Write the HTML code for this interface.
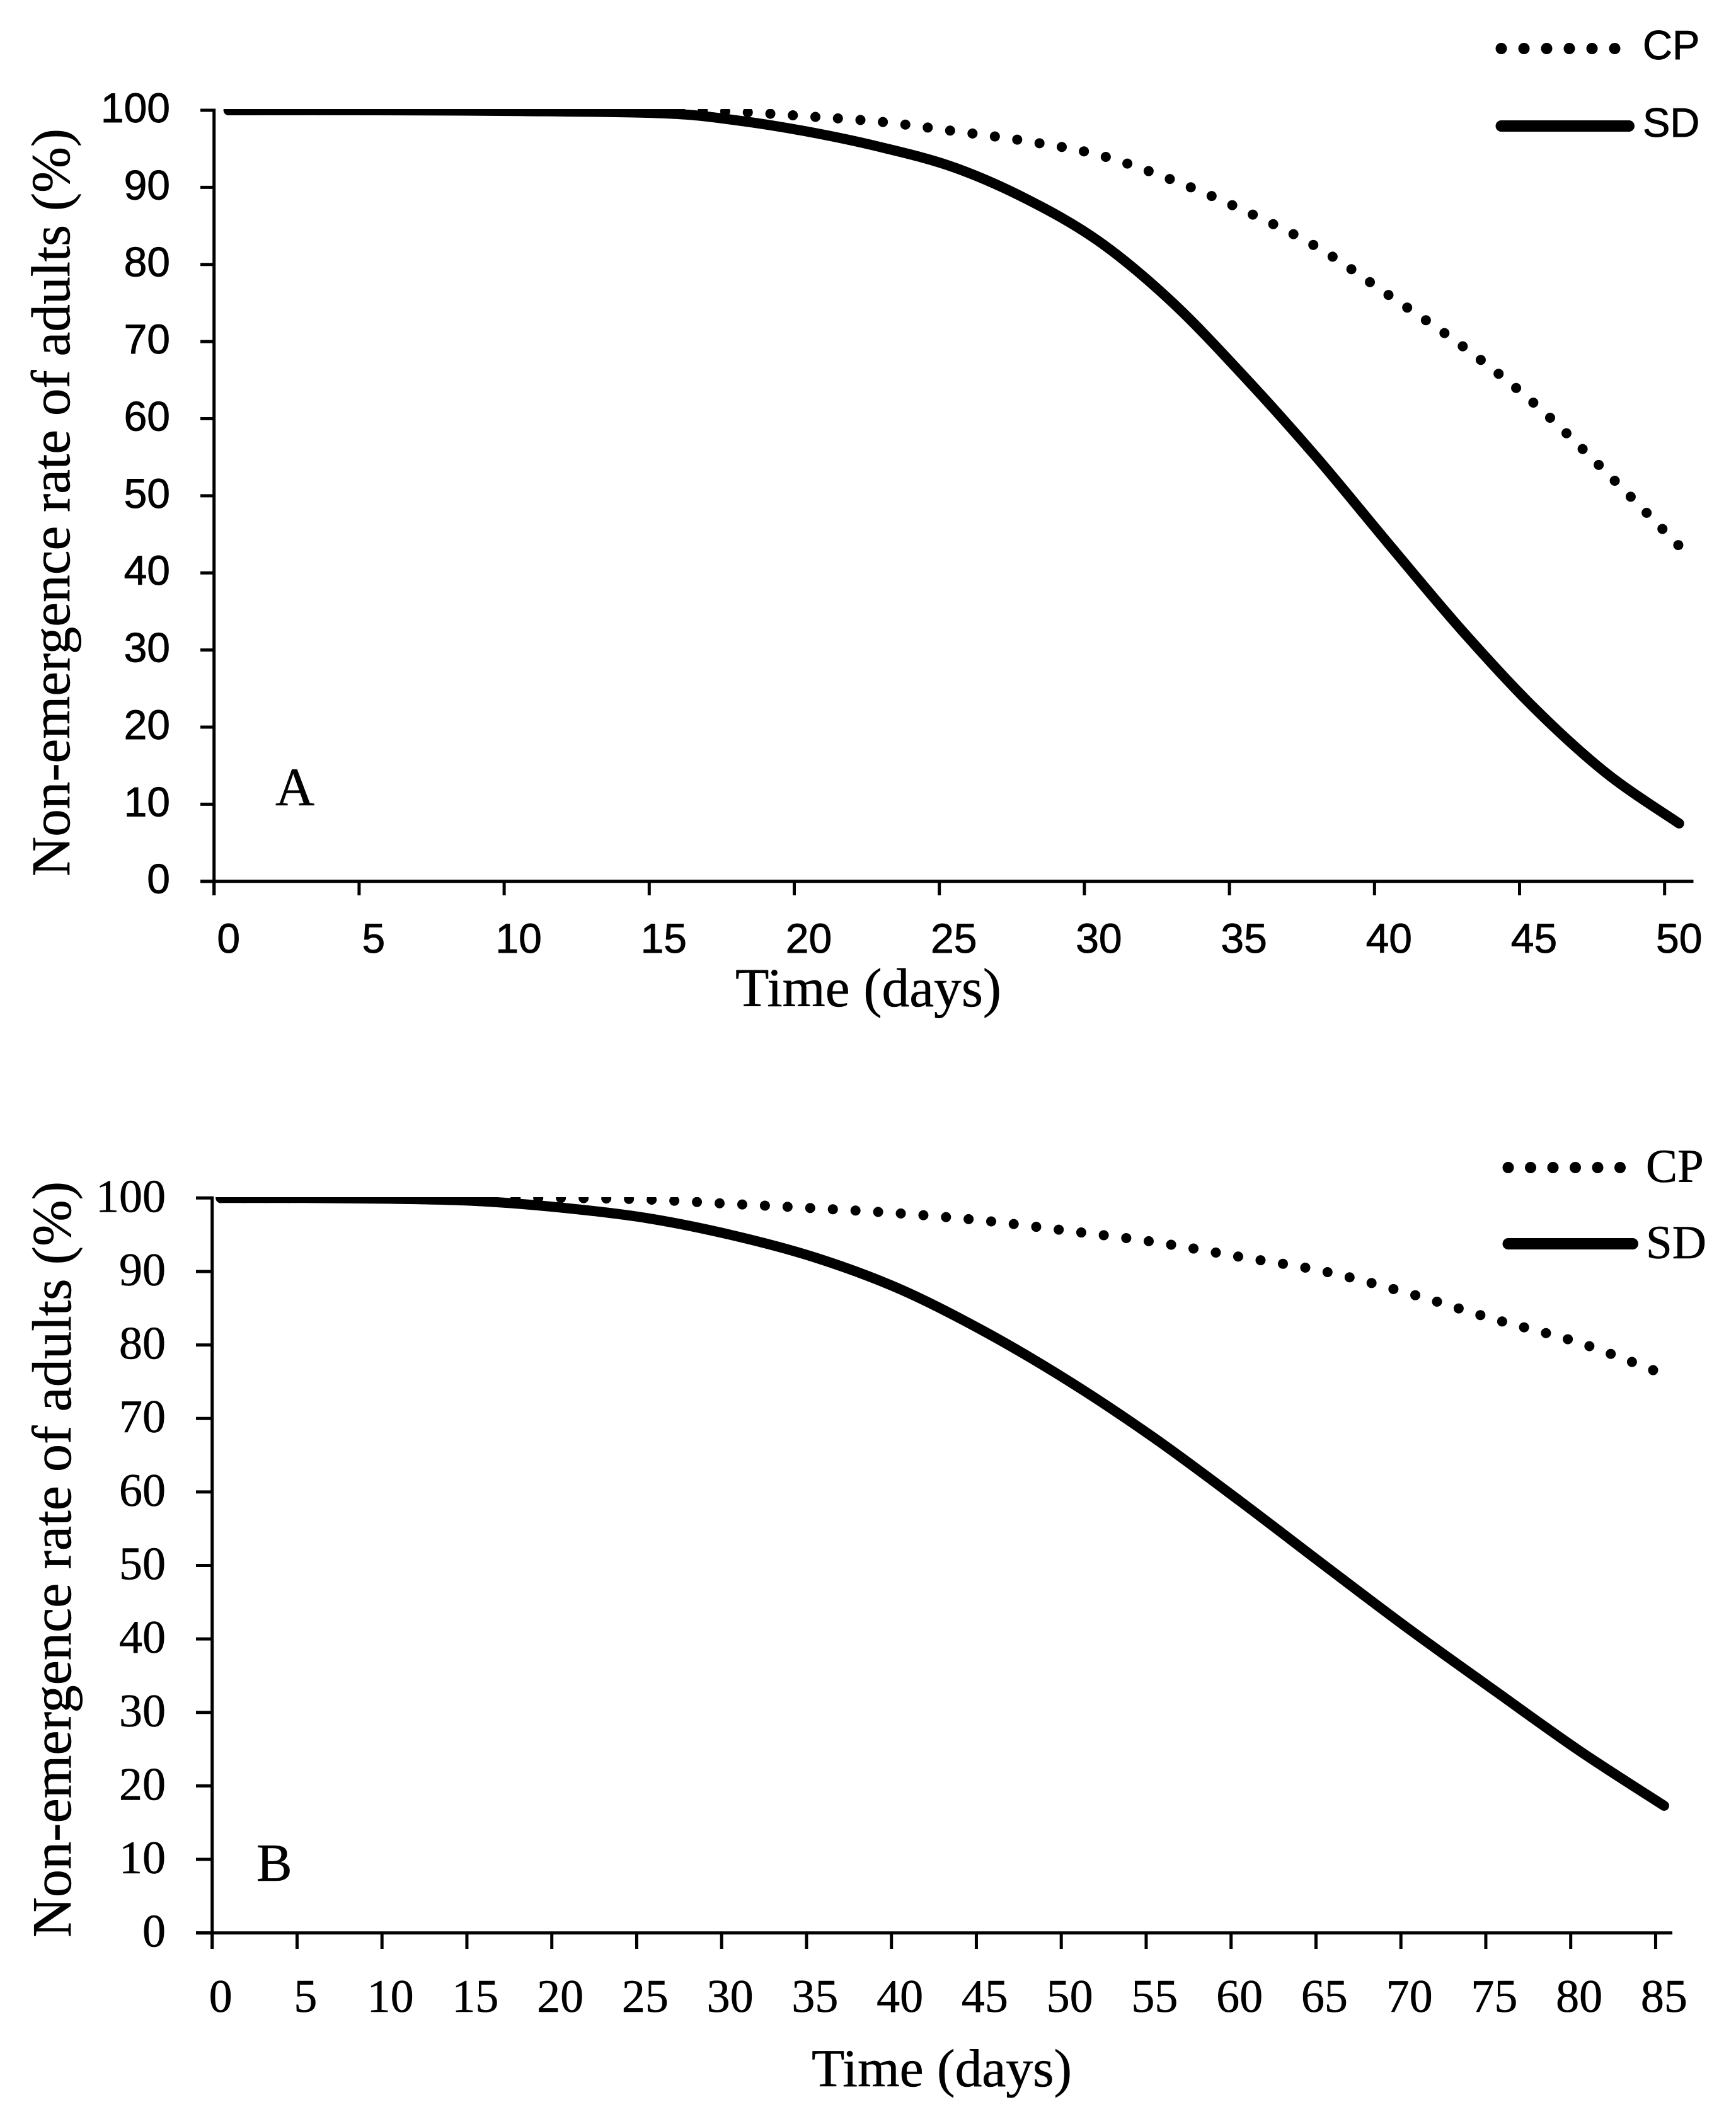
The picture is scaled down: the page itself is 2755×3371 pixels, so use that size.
<!DOCTYPE html>
<html lang="en">
<head>
<meta charset="utf-8">
<title>Non-emergence rate of adults over time</title>
<style>
html,body{margin:0;padding:0;background:#fff;}
svg{display:block;}
.sans{font-family:"Liberation Sans",Arial,sans-serif;stroke:#000;stroke-width:0.9px;}
.serif{font-family:"Liberation Serif","Times New Roman",serif;stroke:#000;stroke-width:0.6px;}
</style>
</head>
<body>
<svg id="figure" xmlns="http://www.w3.org/2000/svg" width="2755" height="3371" viewBox="0 0 2755 3371">
<rect x="0" y="0" width="2755" height="3371" fill="#fff"/>
<defs>
<clipPath id="clipA"><rect x="300" y="173" width="2455" height="1300"/></clipPath>
<clipPath id="clipB"><rect x="300" y="1900" width="2455" height="1300"/></clipPath>
</defs>
</svg>
<script>
// Panel A data
const yTicks = [0,10,20,30,40,50,60,70,80,90,100];
const xTicksA = [0,5,10,15,20,25,30,35,40,45,50];
const daysA = [0,5,10,15,17.5,20,22.5,25,27.5,30,32.5,35,37.5,40,42.5,45,47.5,50];
const sdA = [100,100,99.9,99.6,98.7,97.2,95.2,92.6,88.5,83,75.2,65.5,55,43.7,32.6,22.5,14,7.5];
const cpA = [100,100,100,100,99.8,99.2,98.5,97.3,96,94.2,91,87,82.3,76,69.5,62,53,43.5];
// Panel B data
const xTicksB = [0,5,10,15,20,25,30,35,40,45,50,55,60,65,70,75,80,85];
const daysB = [0,5,10,15,20,25,30,35,40,45,50,55,60,65,70,75,80,85];
const sdB = [100,100,99.9,99.6,98.7,97.3,95,91.9,87.6,81.8,75,67.3,58.8,50,41.3,33,24.8,17.3];
const cpB = [100,100,100,100,100,99.8,99.2,98.6,97.9,96.9,95.5,94,92,90,87,83.5,80.3,76];

const svg = document.getElementById('figure');
const NS = 'http://www.w3.org/2000/svg';
function make(tag, attrs, text){
  const e = document.createElementNS(NS, tag);
  for (const k in attrs) e.setAttribute(k, attrs[k]);
  if (text !== undefined) e.textContent = text;
  svg.appendChild(e);
  return e;
}
function linear(d0,d1,r0,r1){ return v => r0 + (v-d0)*(r1-r0)/(d1-d0); }
function spline(pts){
  let d = 'M' + pts[0][0].toFixed(2) + ' ' + pts[0][1].toFixed(2);
  for (let i=0;i<pts.length-1;i++){
    const p0 = pts[Math.max(i-1,0)], p1 = pts[i], p2 = pts[i+1], p3 = pts[Math.min(i+2,pts.length-1)];
    const c1x = p1[0]+(p2[0]-p0[0])/6, c1y = p1[1]+(p2[1]-p0[1])/6;
    const c2x = p2[0]-(p3[0]-p1[0])/6, c2y = p2[1]-(p3[1]-p1[1])/6;
    d += 'C'+c1x.toFixed(2)+' '+c1y.toFixed(2)+' '+c2x.toFixed(2)+' '+c2y.toFixed(2)+' '+p2[0].toFixed(2)+' '+p2[1].toFixed(2);
  }
  return d;
}
function drawPanel(p){
  const x = linear(0, p.xMax, p.x0, p.x0 + p.xMax*p.pxPerDay);
  const y = linear(0, 100, p.y0, p.y100);
  const pos = t => x(t+0.5);

  // axes
  const yAxis = make('line',{x1:p.x0,y1:p.y100-2.5,x2:p.x0,y2:p.tickBottom,stroke:'#000','stroke-width':5});
  
  
  const xAxis = make('line',{x1:p.tickLeft,y1:p.y0,x2:p.xEnd,y2:p.y0,stroke:'#000','stroke-width':5});
  
  

  // y ticks
  yTicks.forEach(v=>{
    const t = make('line',{x1:p.tickLeft,y1:y(v),x2:p.x0,y2:y(v),stroke:'#000','stroke-width':5});
    
    
    const l = make('text',{x:p.yLabelRight,y:y(v)+p.yLabelDy,'text-anchor':'end','class':p.tickClass,'font-size':p.tickSize,fill:'#000'},String(v));
    
    
  });
  // x ticks
  p.xTicks.forEach(v=>{
    const t = make('line',{x1:x(v),y1:p.y0,x2:x(v),y2:p.tickBottom,stroke:'#000','stroke-width':5});
    
    
    const l = make('text',{x:pos(v),y:p.xLabelY,'text-anchor':'middle','class':p.tickClass,'font-size':p.tickSize,fill:'#000'},String(v));
    
    
  });

  // series
  const cpPts = p.days.map((d,i)=>[pos(d), y(p.cp[i])]);
  const sdPts = p.days.map((d,i)=>[pos(d), y(p.sd[i])]);
  const cp = make('path',{d:spline(cpPts),fill:'none',stroke:'#000','stroke-width':16,'stroke-linecap':'round','clip-path':'url(#'+p.clip+')'});
  
  
  let gap = p.dotGap;
  if (p.fitDots) {
    const cpLen = cp.getTotalLength();
    gap = Math.floor(cpLen/Math.round(cpLen/p.dotGap)*100)/100 - 0.02;
  }
  cp.setAttribute('stroke-dasharray', '0 ' + gap);
  const sd = make('path',{d:spline(sdPts),fill:'none',stroke:'#000','stroke-width':16,'stroke-linecap':'round','stroke-linejoin':'round','clip-path':'url(#'+p.clip+')'});
  
  

  // titles
  const yt = make('text',{transform:'translate('+p.yTitleX+' '+p.yTitleStart+') rotate(-90)',x:0,y:0,'class':'serif','font-size':p.titleSize,textLength:p.yTitleLen,lengthAdjust:'spacingAndGlyphs',fill:'#000'},'Non-emergence rate of adults (%)');
  
  
  const xt = make('text',{x:p.xTitleX,y:p.xTitleY,'class':'serif','font-size':p.xTitleSize,textLength:p.xTitleLen,lengthAdjust:'spacingAndGlyphs',fill:'#000'},'Time (days)');
  
  
  const pl = make('text',{x:p.letterX,y:p.letterY,'class':'serif','font-size':p.letterSize,fill:'#000'},p.letter);
  
  

  // legend
  const lcp = make('line',{x1:p.legX1,y1:p.legCpY,x2:p.legCpX2,y2:p.legCpY,stroke:'#000','stroke-width':18,'stroke-linecap':'round','stroke-dasharray':'0 '+p.legGap});
  
  
  const lsd = make('line',{x1:p.legX1,y1:p.legSdY,x2:p.legSdX2,y2:p.legSdY,stroke:'#000','stroke-width':18,'stroke-linecap':'round'});
  
  
  const tcp = make('text',{x:p.legTextX,y:p.legCpTextY,'class':p.tickClass,'font-size':p.legSize,fill:'#000'},'CP');
  
  
  const tsd = make('text',{x:p.legTextX,y:p.legSdTextY,'class':p.tickClass,'font-size':p.legSize,fill:'#000'},'SD');
  
  
}

drawPanel({
  id:'panel-a', clip:'clipA', letter:'A', dotGap:36, fitDots:true,
  xMax:50, x0:339.7, pxPerDay:46.04, y0:1398.7, y100:175,
  tickLeft:318, tickBottom:1421, xEnd:2687.5,
  xTicks:xTicksA, days:daysA, sd:sdA, cp:cpA,
  tickClass:'sans', tickSize:66, yLabelRight:270, yLabelDy:19, xLabelY:1512,
  titleSize:87, yTitleX:110, yTitleStart:1391, yTitleLen:1187,
  xTitleSize:87, xTitleX:1167, xTitleY:1597, xTitleLen:422,
  letterX:437, letterY:1278, letterSize:86,
  legX1:2382.5, legCpX2:2575, legCpY:77, legSdX2:2585, legSdY:200, legGap:36,
  legTextX:2607, legCpTextY:94, legSdTextY:217, legSize:65
});
drawPanel({
  id:'panel-b', clip:'clipB', letter:'B', dotGap:36, fitDots:false,
  xMax:85, x0:336.7, pxPerDay:26.95, y0:3067.7, y100:1901.3,
  tickLeft:311, tickBottom:3093, xEnd:2654,
  xTicks:xTicksB, days:daysB, sd:sdB, cp:cpB,
  tickClass:'serif', tickSize:74, yLabelRight:263, yLabelDy:22, xLabelY:3193,
  titleSize:88, yTitleX:112, yTitleStart:3075, yTitleLen:1200,
  xTitleSize:85, xTitleX:1288, xTitleY:3311, xTitleLen:413,
  letterX:407, letterY:2985, letterSize:85,
  legX1:2393.5, legCpX2:2585, legCpY:1853, legSdX2:2591, legSdY:1974, legGap:35.5,
  legTextX:2612, legCpTextY:1876, legSdTextY:1997, legSize:75
});
</script>
</body>
</html>
